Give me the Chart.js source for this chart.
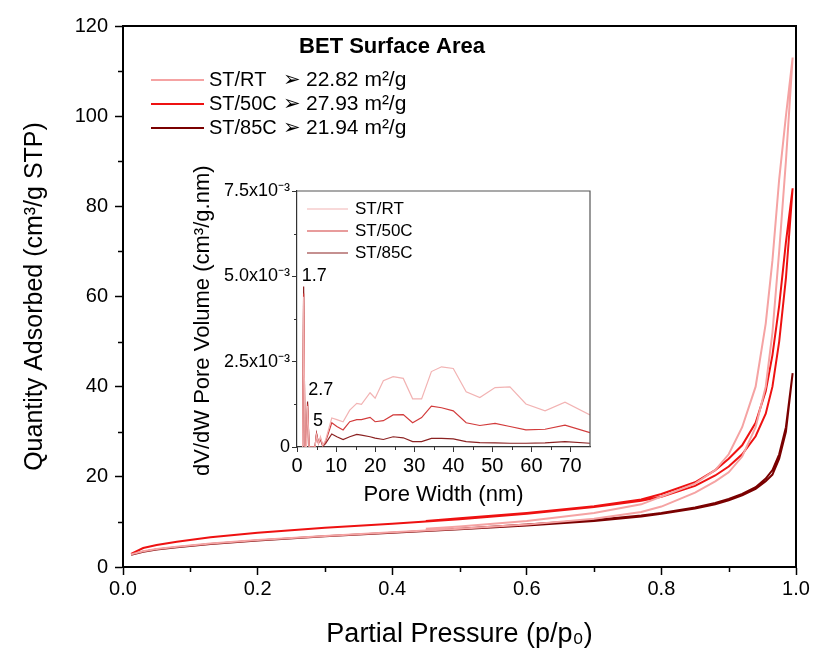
<!DOCTYPE html>
<html>
<head>
<meta charset="utf-8">
<script src="https://cdn.jsdelivr.net/npm/chart.js@4"></script>
<style>
  html, body { margin: 0; padding: 0; background: #fff; }
  #wrap { position: relative; width: 814px; height: 655px; }
  #mainChart { position: absolute; left: 0; top: 0; }
  #insetChart { position: absolute; left: 190px; top: 155px; }
</style>
</head>
<body>
<div id="wrap">
  <canvas id="mainChart" width="814" height="655"></canvas>
  <canvas id="insetChart" width="410" height="355"></canvas>
</div>
<script>
// samples + BET values
const samples = ["ST/RT", "ST/50C", "ST/85C"];
const bet_areas = ["22.82", "27.93", "21.94"];

// isotherms (p/p0 vs quantity adsorbed)
const p_ads = [0.012, 0.03, 0.05, 0.08, 0.13, 0.2, 0.3, 0.4, 0.5, 0.6, 0.7, 0.77, 0.8, 0.85, 0.88, 0.9, 0.92, 0.94, 0.955, 0.965, 0.975, 0.985, 0.995];
const q_ads_rt = [2.8, 3.5, 4.0, 4.5, 5.2, 6.0, 6.9, 7.7, 8.5, 9.4, 10.7, 12.2, 13.4, 16.5, 19.0, 21.0, 24.5, 31, 40, 52, 70, 90, 113];
const q_ads_50 = [2.9, 4.2, 4.9, 5.6, 6.6, 7.6, 8.7, 9.6, 10.6, 11.8, 13.3, 14.7, 15.6, 18.0, 20.3, 22.3, 25.0, 29.0, 34, 40, 50, 64, 84];
const q_ads_85 = [2.7, 3.4, 3.9, 4.4, 5.1, 5.9, 6.8, 7.6, 8.4, 9.2, 10.2, 11.2, 11.8, 13.0, 13.9, 14.8, 15.9, 17.3, 19.0, 20.5, 24, 30, 43];

const p_des = [0.995, 0.985, 0.975, 0.965, 0.955, 0.94, 0.92, 0.9, 0.88, 0.85, 0.8, 0.77, 0.7, 0.6, 0.5, 0.45];
const q_des_rt = [113, 100, 86, 68, 54, 40, 31, 25, 21.5, 18.5, 15.6, 13.9, 12.0, 10.2, 9.0, 8.5];
const q_des_50 = [84, 72, 58, 47, 39, 32, 27, 24, 21.5, 18.8, 16.2, 15.0, 13.5, 12.0, 10.8, 10.2];
const q_des_85 = [43, 31, 25, 21.5, 19.6, 17.7, 16.2, 15.1, 14.2, 13.2, 12.0, 11.4, 10.4, 9.4, 8.5, 8.1];

// pore size distribution (inset), dV/dW in units of 1e-3
const pore_width = [1.45, 1.7, 2.05, 2.4, 2.7, 3.1, 4.6, 5.0, 5.5, 6.0, 6.6, 7.3, 8.9, 10.2, 11.8, 13.5, 15.3, 16.5, 18.7, 20.0, 22.1, 24.6, 27.2, 29.6, 31.9, 34.4, 37.0, 40.0, 43.3, 46.8, 50.7, 54.5, 58.6, 63.5, 68.6, 75.0];
const dv_rt = [0, 4.4, 0, 0, 1.2, 0, 0, 0.35, 0.1, 0.3, 0.05, 0.2, 0.85, 0.8, 0.74, 1.08, 1.28, 1.25, 1.59, 1.43, 1.94, 2.06, 2.01, 1.41, 1.41, 2.21, 2.35, 2.30, 1.62, 1.45, 1.74, 1.76, 1.26, 1.06, 1.31, 0.94];
const dv_50 = [0, 4.5, 0, 0, 1.25, 0, 0, 0.38, 0.1, 0.25, 0.05, 0.15, 0.71, 0.6, 0.5, 0.74, 0.8, 0.8, 0.87, 0.74, 0.77, 0.94, 0.95, 0.71, 0.86, 1.2, 1.15, 1.06, 0.71, 0.63, 0.69, 0.6, 0.5, 0.52, 0.64, 0.42];
const dv_85 = [0, 4.7, 0, 0, 1.33, 0, 0, 0.4, 0.12, 0.22, 0.02, 0.1, 0.38, 0.3, 0.22, 0.3, 0.37, 0.35, 0.3, 0.26, 0.22, 0.3, 0.27, 0.16, 0.16, 0.25, 0.25, 0.24, 0.16, 0.13, 0.12, 0.11, 0.11, 0.12, 0.16, 0.11];
const inset_x_ticks = [0, 10, 20, 30, 40, 50, 60, 70];

// peak labels in the inset
const peak_labels = ["1.7", "2.7", "5"];
const peak_x = [4.4, 6.1, 5.4];
const peak_y = [5.0, 1.67, 0.76];

const FONT = "Arial, 'Liberation Sans', sans-serif";
Chart.defaults.font.family = FONT;
Chart.defaults.color = "#000";

const main_colors = ["#f5a3a3", "#ee1111", "#7a0000"];
const inset_colors = ["#f2b3b3", "#d23b3b", "#8b2222"];

const toPoints = (xs, ys) => xs.map((x, i) => ({ x: x, y: ys[i] }));

// minor ticks + top/right frame
const axisExtras = {
  id: "axisExtras",
  afterDraw(chart, args, opts) {
    const ctx = chart.ctx;
    const area = chart.chartArea;
    const xs = chart.scales.x, ys = chart.scales.y;
    ctx.save();
    ctx.strokeStyle = opts.tickColor;
    ctx.lineWidth = opts.tickWidth;
    ctx.beginPath();
    for (let v = xs.min + opts.xMinor; v < xs.max; v += opts.xMinor * 2) {
      const px = Math.round(xs.getPixelForValue(v)) + 0.5;
      ctx.moveTo(px, area.bottom);
      ctx.lineTo(px, area.bottom + opts.minorLen);
    }
    for (let v = ys.min + opts.yMinor; v < ys.max; v += opts.yMinor * 2) {
      const py = Math.round(ys.getPixelForValue(v)) + 0.5;
      ctx.moveTo(area.left, py);
      ctx.lineTo(area.left - opts.minorLen, py);
    }
    ctx.stroke();
    ctx.strokeStyle = opts.frameColor;
    ctx.lineWidth = opts.frameWidth;
    ctx.beginPath();
    ctx.moveTo(area.left, area.top);
    ctx.lineTo(area.right, area.top);
    ctx.lineTo(area.right, area.bottom);
    ctx.stroke();
    ctx.restore();
  }
};

const betLegend = {
  id: "betLegend",
  afterDraw(chart) {
    const ctx = chart.ctx;
    ctx.save();
    ctx.fillStyle = "#000";
    ctx.textBaseline = "middle";
    ctx.font = "bold 22px " + FONT;
    ctx.textAlign = "center";
    ctx.fillText("BET Surface Area", 392, 47);
    ctx.textAlign = "left";
    samples.forEach((s, i) => {
      const y = 80 + i * 24;
      ctx.strokeStyle = main_colors[i];
      ctx.lineWidth = 2;
      ctx.beginPath();
      ctx.moveTo(151, y);
      ctx.lineTo(204, y);
      ctx.stroke();
      ctx.font = "20px " + FONT;
      ctx.fillText(s, 209, y);
      ctx.font = "21px 'DejaVu Sans'";
      ctx.fillText("\u27A2", 283, y + 1);
      ctx.font = "21px " + FONT;
      ctx.fillText(bet_areas[i] + " m\u00B2/g", 306, y);
    });
    ctx.restore();
  }
};

const insetLabels = {
  id: "insetLabels",
  afterDraw(chart) {
    const ctx = chart.ctx;
    const xs = chart.scales.x, ys = chart.scales.y;
    ctx.save();
    ctx.fillStyle = "#000";
    ctx.textBaseline = "middle";
    ctx.font = "17px " + FONT;
    samples.forEach((s, i) => {
      const y = 54 + i * 22;
      ctx.strokeStyle = inset_colors[i];
      ctx.lineWidth = 1.2;
      ctx.beginPath();
      ctx.moveTo(117, y);
      ctx.lineTo(158, y);
      ctx.stroke();
      ctx.fillText(s, 165, y);
    });
    ctx.textAlign = "center";
    ctx.font = "18px " + FONT;
    peak_labels.forEach((t, i) => {
      ctx.fillText(t, xs.getPixelForValue(peak_x[i]), ys.getPixelForValue(peak_y[i]));
    });
    // y title, runs off the top edge like the original
    ctx.font = "22px " + FONT;
    ctx.textAlign = "left";
    ctx.translate(13, 321);
    ctx.rotate(-Math.PI / 2);
    ctx.fillText("dV/dW Pore Volume (cm\u00B3/g.nm)", 0, 0);
    ctx.restore();
  }
};

const makeMain = () => {
  const ctx = document.getElementById("mainChart");
  const q_ads = [q_ads_rt, q_ads_50, q_ads_85];
  const q_des = [q_des_rt, q_des_50, q_des_85];
  const datasets = samples.map((s, i) => ({
    label: s,
    data: toPoints(p_ads, q_ads[i]).concat(toPoints(p_des, q_des[i])),
    showLine: true,
    borderColor: main_colors[i],
    borderWidth: 2,
    pointRadius: 0,
    tension: 0,
  }));
  return new Chart(ctx, {
    type: "scatter",
    data: { datasets },
    options: {
      responsive: false,
      animation: false,
      layout: { padding: { top: 26, right: 18, left: 0, bottom: 0 } },
      plugins: {
        legend: { display: false },
        tooltip: { enabled: false },
        axisExtras: { xMinor: 0.1, yMinor: 10, minorLen: 5, tickColor: "#000", tickWidth: 1.5, frameColor: "#000", frameWidth: 2 },
      },
      scales: {
        x: {
          type: "linear",
          min: 0,
          max: 1,
          ticks: { stepSize: 0.2, padding: 2, font: { size: 20 }, color: "#000", callback: (v) => v.toFixed(1) },
          grid: { drawOnChartArea: false, tickLength: 8, tickColor: "#000", tickWidth: 1.5 },
          border: { color: "#000", width: 2 },
          title: { display: true, text: "Partial Pressure (p/p\u2080)", font: { size: 27 }, padding: { top: 0, bottom: 4 } },
          afterFit: (s) => { s.height = 88; },
        },
        y: {
          min: 0,
          max: 120,
          ticks: { stepSize: 20, padding: 7, font: { size: 20 }, color: "#000" },
          grid: { drawOnChartArea: false, tickLength: 8, tickColor: "#000", tickWidth: 1.5 },
          border: { color: "#000", width: 2 },
          title: { display: true, text: "Quantity Adsorbed (cm\u00B3/g STP)", font: { size: 25 }, padding: 20 },
          afterFit: (s) => { s.width = 123; },
        },
      },
    },
    plugins: [axisExtras, betLegend],
  });
};

const makeInset = () => {
  const ctx = document.getElementById("insetChart");
  const dv = [dv_rt, dv_50, dv_85];
  const datasets = samples.map((s, i) => ({
    label: s,
    data: toPoints(pore_width, dv[i]),
    showLine: true,
    borderColor: inset_colors[i],
    borderWidth: 1.2,
    pointRadius: 0,
    tension: 0,
  }));
  return new Chart(ctx, {
    type: "scatter",
    data: { datasets },
    options: {
      responsive: false,
      animation: false,
      layout: { padding: { top: 36, right: 10, left: 0, bottom: 0 } },
      plugins: {
        legend: { display: false },
        tooltip: { enabled: false },
        axisExtras: { xMinor: 5, yMinor: 1.25, minorLen: 3, tickColor: "#333", tickWidth: 1, frameColor: "#555", frameWidth: 1.2 },
      },
      scales: {
        x: {
          type: "linear",
          min: 0,
          max: 75,
          afterBuildTicks: (s) => { s.ticks = inset_x_ticks.map((v) => ({ value: v })); },
          ticks: { padding: 2, font: { size: 20 }, color: "#000" },
          grid: { drawOnChartArea: false, tickLength: 5, tickColor: "#333", tickWidth: 1 },
          border: { color: "#333", width: 1.2 },
          title: { display: true, text: "Pore Width (nm)", font: { size: 22 }, padding: { top: 0, bottom: 2 } },
          afterFit: (s) => { s.height = 63; },
        },
        y: {
          min: 0,
          max: 7.5,
          ticks: { stepSize: 2.5, padding: 2, font: { size: 18 }, color: "#000",
            callback: (v) => (v === 0 ? "0" : v.toFixed(1) + "x10\u207B\u00B3") },
          grid: { drawOnChartArea: false, tickLength: 5, tickColor: "#333", tickWidth: 1 },
          border: { color: "#333", width: 1.2 },
          title: { display: false },
          afterFit: (s) => { s.width = 107; },
        },
      },
    },
    plugins: [axisExtras, insetLabels],
  });
};

makeMain();
makeInset();
</script>
</body>
</html>
